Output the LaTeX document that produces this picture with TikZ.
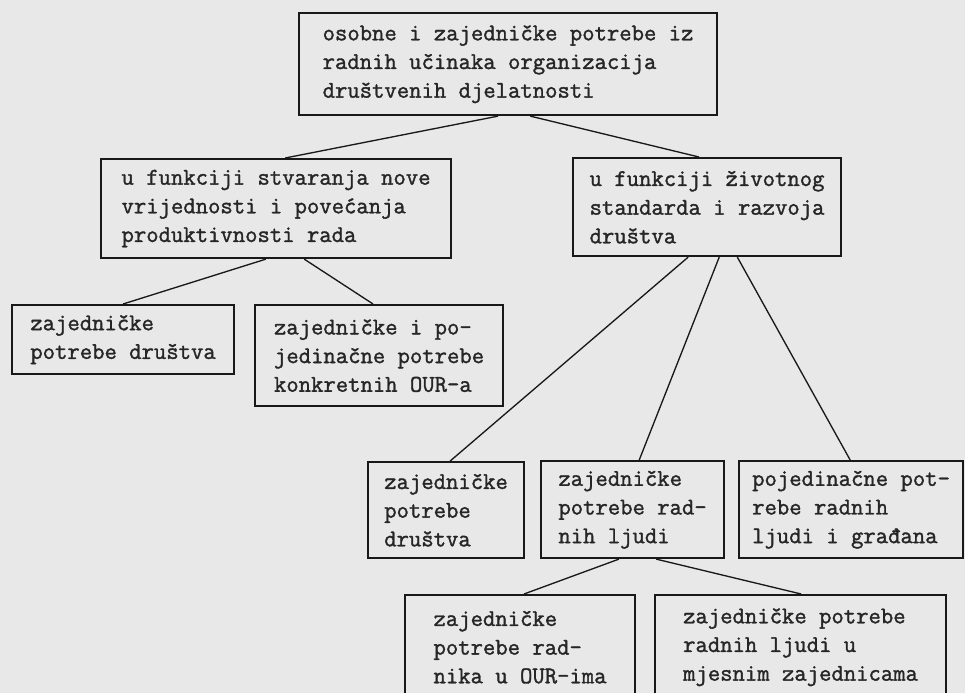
\documentclass[tikz,border=0pt]{standalone}
\usepackage{fontspec}
\usepackage{tikz}
\usetikzlibrary{calc}
\newfontfamily\pisaca{Latin Modern Mono}[FakeBold=1.4]

\begin{document}
\begin{tikzpicture}[x=0.75pt, y=-0.75pt, font={\fontsize{18}{21.5}\selectfont\pisaca},
	box/.style={draw=black!90, line width=1.6pt, anchor=north west, align=left, inner sep=0pt, text=black!85},
	link/.style={draw=black!90, line width=1pt}]
	\useasboundingbox[fill=black!9] (0,0) rectangle (965,693);

	% top
	\node[box, minimum width=313.5pt, minimum height=76.5pt] (potrebe) at (298,12)
		{osobne i zajedničke potrebe iz\\radnih učinaka organizacija\\društvenih djelatnosti};

	% second row
	\node[box, minimum width=262.5pt, minimum height=74.25pt] (stvaranje) at (100,158)
		{u funkciji stvaranja nove\\vrijednosti i povećanja\\produktivnosti rada};
	\node[box, minimum width=201pt, minimum height=73.5pt] (standard) at (572,157)
		{u funkciji životnog\\standarda i razvoja\\društva};

	% under stvaranje
	\node[box, minimum width=166.5pt, minimum height=51.75pt] (drustvoA) at (11,304)
		{zajedničke\\potrebe društva};
	\node[box, minimum width=186pt, minimum height=75.75pt] (our) at (254,304)
		{zajedničke i po-\\jedinačne potrebe\\konkretnih OUR-a};

	% under standard
	\node[box, minimum width=117pt, minimum height=72pt] (drustvoB) at (367,461)
		{zajedničke\\potrebe\\društva};
	\node[box, minimum width=137.25pt, minimum height=72.75pt] (ljudi) at (540,460)
		{zajedničke\\potrebe rad-\\nih ljudi};
	\node[box, minimum width=168pt, minimum height=72.75pt] (gradjani) at (738,460)
		{pojedinačne pot-\\rebe radnih\\ljudi i građana};

	% under ljudi
	\node[box, minimum width=172.5pt, minimum height=78pt] (radnici) at (404,594)
		{zajedničke\\potrebe rad-\\nika u OUR-ima};
	\node[box, minimum width=218.25pt, minimum height=78pt] (mjesne) at (654,594)
		{zajedničke potrebe\\radnih ljudi u\\mjesnim zajednicama};

	\draw[link] ($(potrebe.south west)!.476!(potrebe.south east)$) -- ($(stvaranje.north west)!.526!(stvaranje.north east)$);
	\draw[link] ($(potrebe.south west)!.553!(potrebe.south east)$) -- ($(standard.north west)!.47!(standard.north east)$);

	\draw[link] ($(stvaranje.south west)!.471!(stvaranje.south east)$) -- ($(drustvoA.north west)!.5!(drustvoA.north east)$);
	\draw[link] ($(stvaranje.south west)!.58!(stvaranje.south east)$) -- ($(our.north west)!.476!(our.north east)$);

	\draw[link] ($(standard.south west)!.43!(standard.south east)$) -- ($(drustvoB.north west)!.526!(drustvoB.north east)$);
	\draw[link] ($(standard.south west)!.545!(standard.south east)$) -- ($(ljudi.north west)!.536!(ljudi.north east)$);
	\draw[link] ($(standard.south west)!.612!(standard.south east)$) -- ($(gradjani.north west)!.496!(gradjani.north east)$);

	\draw[link] ($(ljudi.south west)!.426!(ljudi.south east)$) -- ($(radnici.north west)!.517!(radnici.north east)$);
	\draw[link] ($(ljudi.south west)!.628!(ljudi.south east)$) -- ($(mjesne.north west)!.502!(mjesne.north east)$);
\end{tikzpicture}
\end{document}
